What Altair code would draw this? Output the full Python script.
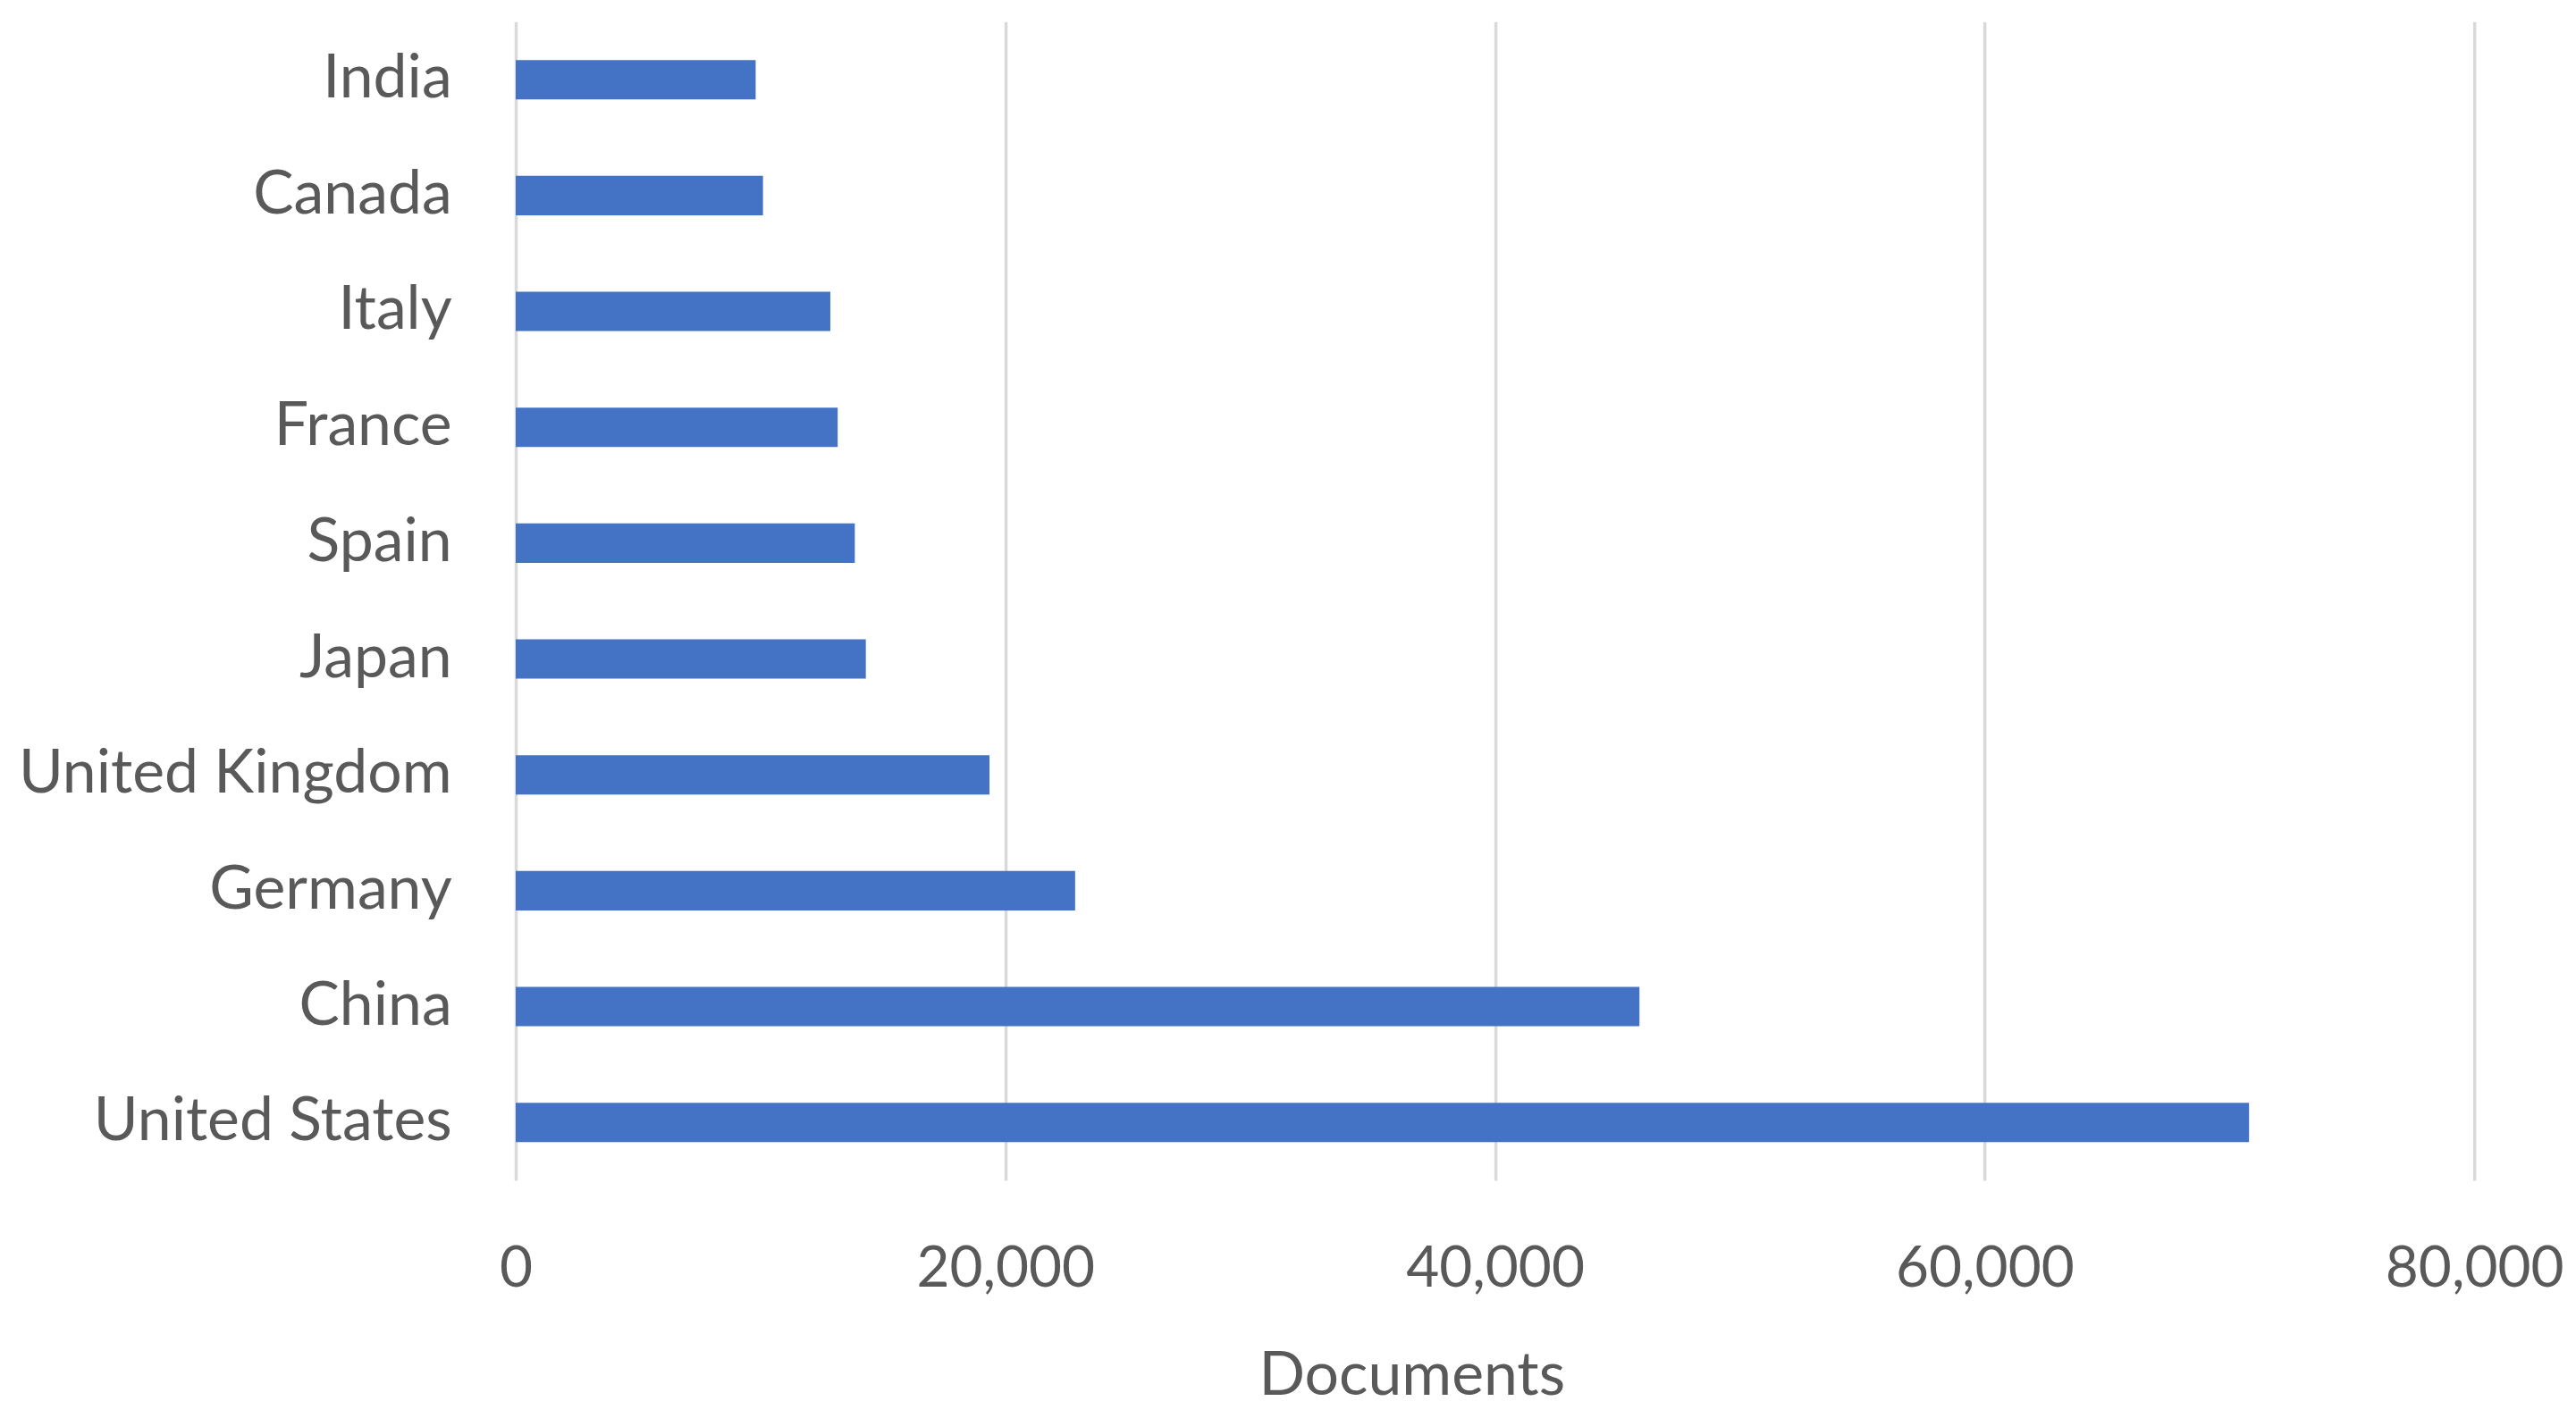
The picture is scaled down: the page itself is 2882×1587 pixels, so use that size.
import altair as alt
import pandas as pd

countries = ["India", "Canada", "Italy", "France", "Spain", "Japan",
             "United Kingdom", "Germany", "China", "United States"]
documents = [9800, 10100, 12850, 13150, 13850, 14300, 19350, 22850, 45900, 70800]
x_ticks = [0, 20000, 40000, 60000, 80000]

df = pd.DataFrame({"Country": countries, "Documents": documents})

FONT = "Lato"
GREY = "#595959"

chart = alt.Chart(df).mark_bar(color="#4472C4").encode(
    x=alt.X("Documents:Q",
            scale=alt.Scale(domain=[0, 80000], nice=False),
            axis=alt.Axis(values=x_ticks, format=",d", title="Documents",
                          domain=False, ticks=False, grid=True,
                          gridColor="#D9D9D9", gridWidth=3.5,
                          labelFont=FONT, labelFontSize=64, labelColor=GREY,
                          labelPadding=68, labelLimit=1000, labelFlush=False,
                          titleFont=FONT, titleFontSize=68, titleColor=GREY,
                          titleFontWeight="normal",
                          titleX=1004, titleY=240, titleAlign="center",
                          titleBaseline="alphabetic")),
    y=alt.Y("Country:N", sort=countries,
            scale=alt.Scale(paddingInner=0.66, paddingOuter=0.33),
            axis=alt.Axis(title=None, domain=False, ticks=False, grid=False,
                          labelFont=FONT, labelFontSize=68, labelColor=GREY,
                          labelPadding=72, labelLimit=1000)),
).properties(
    width=2195,
    height=1299,
    autosize=alt.AutoSizeParams(type="none"),
    padding={"left": 570, "top": 15, "right": 106, "bottom": 262},
).configure_view(stroke=None)

chart.save("out.html", embed_options={"renderer": "svg", "actions": False})
